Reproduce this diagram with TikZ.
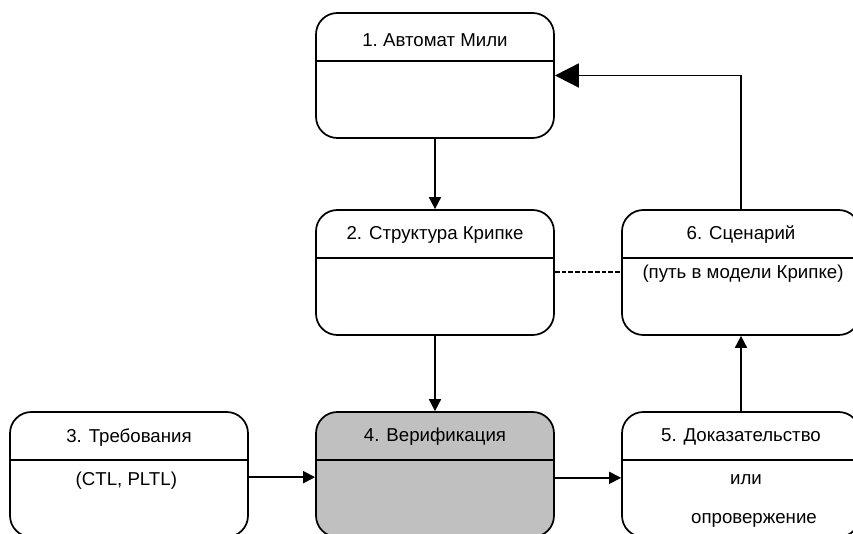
\documentclass[tikz,border=0pt]{standalone}
\usepackage{fontspec}
\setmainfont{Liberation Sans}
\usepackage{xcolor}
\definecolor{verifgray}{RGB}{192,192,192}
\usetikzlibrary{arrows.meta}

\begin{document}
\begin{tikzpicture}[x=0.75pt, y=-0.75pt,
  state/.style={draw, line width=1.3pt, rounded corners=16pt,
    minimum width=178.5pt, minimum height=93.75pt, inner sep=0pt},
  ttl/.style={font=\fontsize{14}{16}\selectfont, inner sep=0pt},
  arr/.style={line width=1.3pt, -{Triangle[length=9pt,width=9pt]}},
  bigarr/.style={line width=1.3pt, -{Triangle[length=18pt,width=18pt]}}]
\clip (0,0) rectangle (853,534);

% States
\node[state] (B1) at (435,75.5) {};
\node[state] (B2) at (435,272.5) {};
\node[state] (B3) at (129,474.5) {};
\node[state, fill=verifgray] (B4) at (435,474.5) {};
\node[state] (B5) at (741,474.5) {};
\node[state] (B6) at (741,272.5) {};

% Header lines
\foreach \b in {B1,B2,B3,B4,B5,B6}
  \draw[line width=1.3pt] ([yshift=-36.75pt]\b.north west) -- ([yshift=-36.75pt]\b.north east);

% Titles
\node[ttl] (T1) at ([yshift=-21pt]B1.north) {1.\ Автомат Мили};
\node[ttl] (T2) at ([yshift=-19pt]B2.north) {2. Структура Крипке};
\node[ttl] (T3) at ([yshift=-20pt]B3.north) {3. Требования};
\node[ttl] (T4) at ([yshift=-19pt]B4.north) {4. Верификация};
\node[ttl] (T5) at ([yshift=-19pt]B5.north) {5. Доказательство};
\node[ttl] (T6) at ([yshift=-19pt]B6.north) {6. Сценарий};

% Contents
\node[ttl] (C3) at ([xshift=-2pt, yshift=-52.5pt]B3.north) {(CTL, PLTL)};
\node[ttl] (C6) at ([xshift=1.5pt, yshift=-48.75pt]B6.north) {(путь в модели Крипке)};
\node[ttl] (C5a) at ([xshift=3.75pt, yshift=-51.75pt]B5.north) {или};
\node[ttl] (C5b) at ([xshift=9.75pt, yshift=-81.75pt]B5.north) {опровержение};

% Connections
\draw[arr] (B1) -- (B2);
\draw[arr] (B2) -- (B4);
\draw[arr] ([yshift=-2pt]B3.east) -- ([yshift=-2pt]B4.west);
\draw[arr] ([yshift=-2.5pt]B4.east) -- ([yshift=-2.5pt]B5.west);
\draw[arr] (B5) -- (B6);
\draw[bigarr] (B6) |- (B1);
\draw[line width=1.5pt, dash pattern=on 3.5pt off 1.5pt] (B2) -- (B6);
\end{tikzpicture}
\end{document}
